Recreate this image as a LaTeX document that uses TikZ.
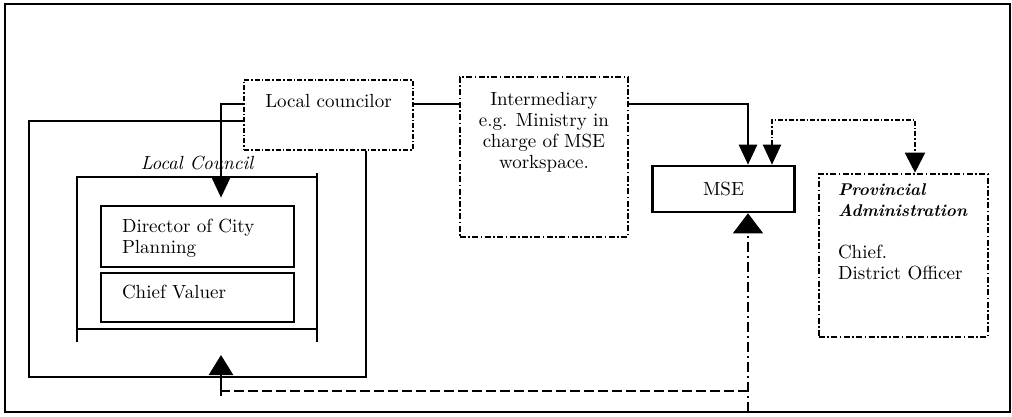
\documentclass[tikz,border=0pt]{standalone}
\usetikzlibrary{arrows.meta}
\begin{document}
\begin{tikzpicture}[x=0.5pt, y=-0.5pt,
    font=\fontsize{9.5}{10.5}\selectfont,
    wire/.style={line width=1.3pt},
    flow/.style={wire, -{Triangle[length=10pt, width=9pt]}},
    solidbox/.style={draw, line width=1.3pt, inner xsep=10.5pt},
    dotbox/.style={draw, line width=0.9pt, dash pattern=on 2.5pt off 1pt on 0.8pt off 1pt},
    dashdotbox/.style={draw, line width=1.1pt, dash pattern=on 3pt off 1.2pt on 0.8pt off 1.2pt},
    linkline/.style={line width=1pt, dash pattern=on 2.5pt off 1pt on 0.8pt off 1pt},
    backline/.style={line width=1.2pt, dash pattern=on 5pt off 2pt},
    thinline/.style={line width=0.6pt, dash pattern=on 5pt off 2pt on 1pt off 2pt}]
    \useasboundingbox (0,0) rectangle (1012,417);
    \draw[line width=1.1pt] (5,4) rectangle (1010,412);

    % boxes
    \node[dotbox, inner xsep=2pt, inner ysep=7pt] (lc) at (328.5,115)
        {\parbox[c][21pt][t]{80.5pt}{\centering Local councilor}};
    \node[dashdotbox, line width=0.8pt, inner xsep=2pt, inner ysep=7.5pt] (im) at (544,157)
        {\parbox[c][65pt][t]{80pt}{\centering Intermediary\\ e.g. Ministry in\\ charge of MSE\\ workspace.}};
    \node[solidbox, inner xsep=0pt, minimum width=71pt, minimum height=23pt] (mse) at (723.5,189) {MSE};
    \node[dashdotbox, line width=1.3pt, inner xsep=9.5pt, inner ysep=5pt] (prov) at (903.5,255.5)
        {\parbox[c][71.5pt][t]{65.5pt}{\raggedright{\fontsize{8.5}{10.5}\selectfont\bfseries\itshape Provincial\\ Administration}\\[10.5pt]
        Chief.\\ District Officer}};

    % local council
    \node[font=\fontsize{9.5}{10.5}\selectfont\itshape] (lctitle) at (197,163) {Local Council};
    \node[solidbox, inner ysep=6.5pt] (dcp) at (197.5,236.5)
        {\parbox[c][17.5pt][t]{75.5pt}{\raggedright Director of City\\ Planning}};
    \node[solidbox, inner ysep=6pt] (cv) at (197.5,297.5)
        {\parbox[c][12.5pt][t]{75.5pt}{\raggedright Chief Valuer}};
    \draw[wire] (77,342) -- (77,177) -- (317,177);
    \draw[wire] (317,173) -- (317,342);
    \draw[wire] (77,329) -- (317,329);

    \coordinate (lcbr) at (366,377);
    \draw[wire] ([yshift=-3pt]lc.west) -| (29,377) -- (lcbr) -- (lcbr |- lc.south);

    % connectors
    \draw[flow] ([yshift=5.5pt]lc.west) -| ([xshift=11.75pt,yshift=3.5pt]dcp.north);
    \draw[wire] ([yshift=5.5pt]lc.east) -- ([yshift=5.5pt]lc.east -| im.west);
    \draw[flow] ([yshift=5.5pt]lc.east -| im.east) -| ([xshift=12.25pt]mse.north);
    \draw[linkline, {Triangle[length=10pt, width=9pt]}-{Triangle[length=10pt, width=10pt]}]
        ([xshift=24.25pt]mse.north) -- ++(0,-45) -| ([xshift=5.75pt]prov.north);

    % feedback
    \coordinate (msefoot) at (748,412);
    \coordinate (fbcorner) at (748,391);
    \coordinate (fbtail) at (221,396);
    \coordinate (fbtip) at (221,355);
    \draw[thinline, -{Triangle[length=10pt, width=15pt]}] (msefoot) -- ([xshift=12.25pt]mse.south);
    \draw[backline] (fbcorner) -- (fbcorner -| fbtail);
    \draw[wire, -{Triangle[length=10pt, width=12pt]}] (fbtail) -- (fbtip);
\end{tikzpicture}
\end{document}
